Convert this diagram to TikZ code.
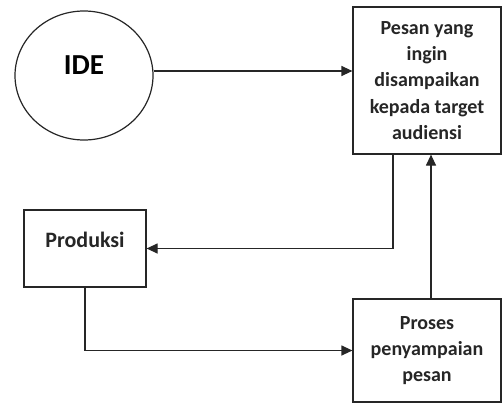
\documentclass[tikz,border=0pt]{standalone}
\usepackage{fontspec}
\setmainfont{Carlito}
\usetikzlibrary{arrows.meta, shapes.geometric, positioning}

\begin{document}
\begin{tikzpicture}[x=1pt, y=-1pt, line width=1.2pt, draw=black!85,
  box/.style={draw=black!85, rectangle, inner sep=0pt, align=center, font=\fontsize{20}{26.3}\selectfont\bfseries, text=black!85},
  blob/.style={draw=black!85, ellipse, inner sep=0pt, minimum width=138pt, minimum height=129pt, font=\fontsize{29}{35}\selectfont\bfseries},
  arr/.style={-{Triangle[length=11pt, width=10pt]}}]
  \useasboundingbox (0,0) rectangle (502,404);
  \node[blob, text height=19pt, text depth=22pt] (ide) at (84,75.5) {IDE};
  \node[box, minimum width=148pt, minimum height=147pt] (pesan) at (427,80.5)
    {Pesan yang\\ingin\\disampaikan\\kepada target\\audiensi};
  \node[box, minimum width=122pt, minimum height=77pt, text height=15pt, text depth=18pt, font=\fontsize{22}{26}\selectfont\bfseries] (produksi) at (85,248.5) {Produksi};
  \node[box, minimum width=148pt, minimum height=103pt] (proses) at (427,350.5)
    {Proses\\penyampaian\\pesan};
  \draw[arr] ([yshift=4.5pt]ide.east) -- ([yshift=4.5pt]ide.east -| pesan.west);
  \draw[arr] ([xshift=-34pt]pesan.south) |- (produksi.east);
  \draw[arr] (produksi.south) |- (proses.west);
  \draw[arr] ([xshift=4pt]proses.north) -- ([xshift=4pt]pesan.south);
\end{tikzpicture}
\end{document}
